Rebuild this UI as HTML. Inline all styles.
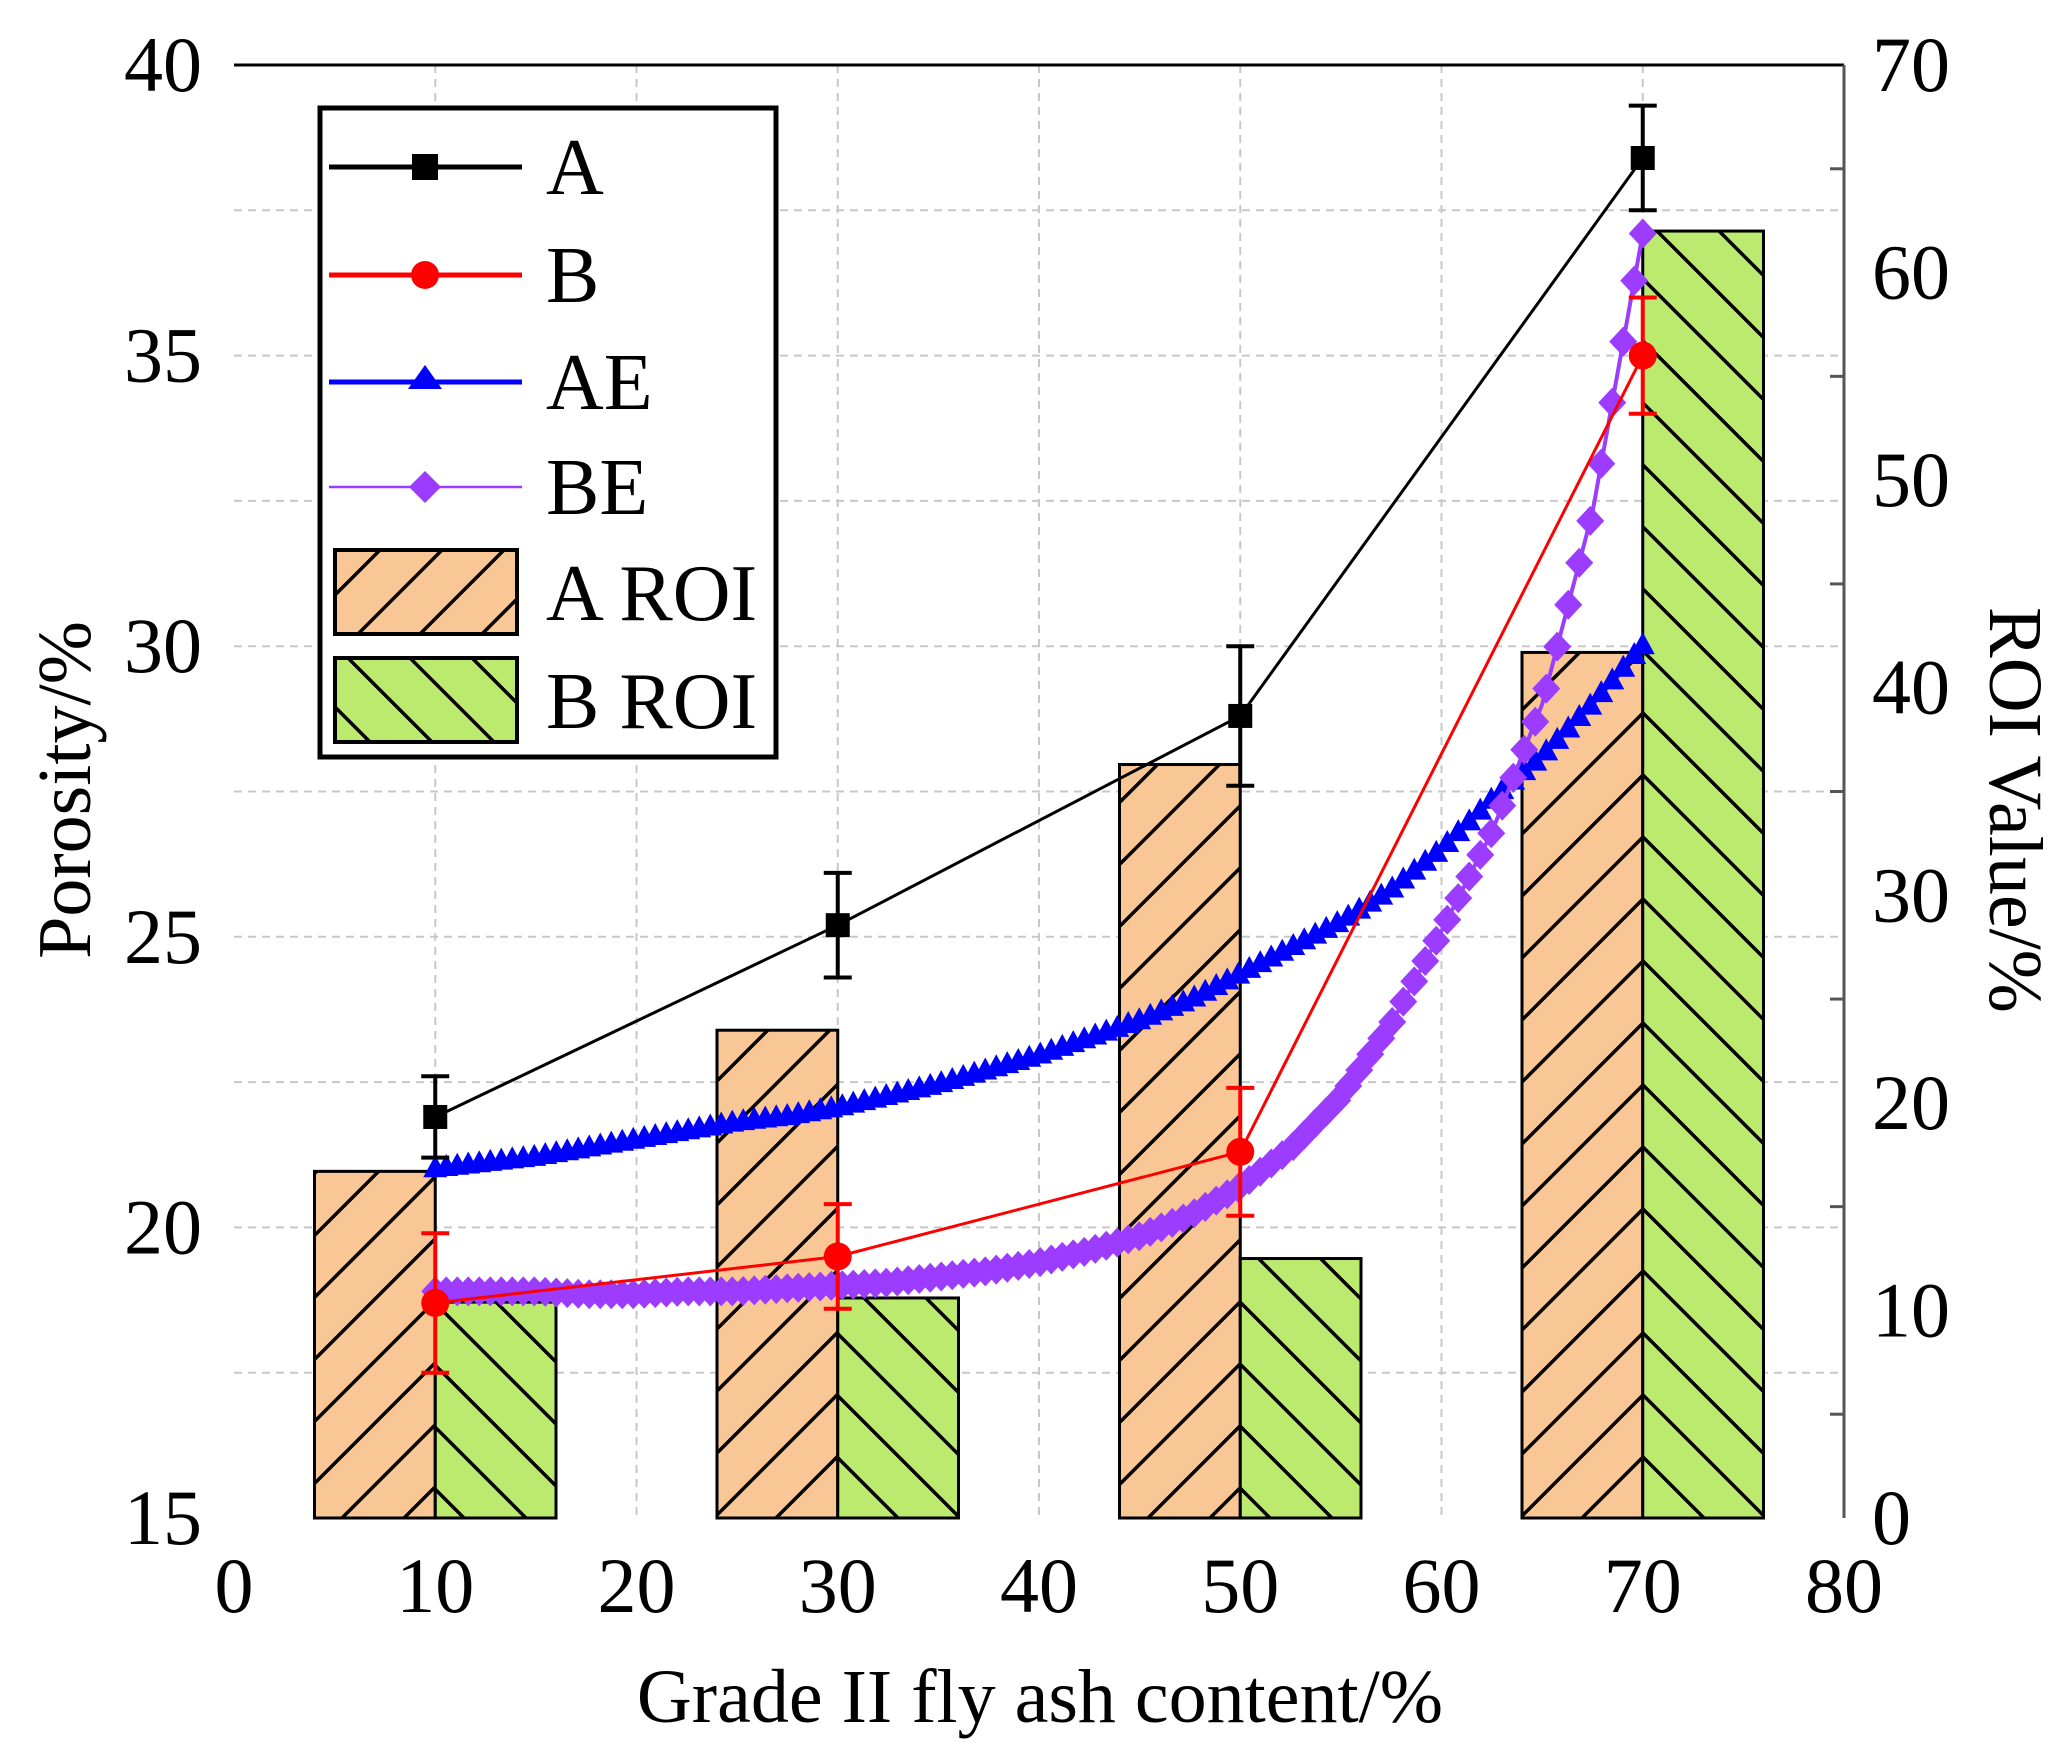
<!DOCTYPE html>
<html><head><meta charset="utf-8">
<style>
html,body{margin:0;padding:0;background:#fff;}
svg{display:block;}
text{font-family:"Liberation Serif",serif;fill:#000;}
</style></head>
<body>
<svg id="chart" width="2063" height="1758" viewBox="0 0 2063 1758" xmlns="http://www.w3.org/2000/svg">
<defs>
<pattern id="hatchA" patternUnits="userSpaceOnUse" width="62" height="62">
<rect width="62" height="62" fill="#f9c795"/>
<path d="M-10,72 L72,-10 M-10,10 L10,-10 M52,72 L72,52" stroke="#000" stroke-width="3.5"/>
</pattern>
<pattern id="hatchB" patternUnits="userSpaceOnUse" width="62" height="62">
<rect width="62" height="62" fill="#bbea6f"/>
<path d="M-10,-10 L72,72 M-10,52 L10,72 M52,-10 L72,10" stroke="#000" stroke-width="3.5"/>
</pattern>
</defs>
<g id="grid"></g>
<g id="bars"></g>
<g id="lines"></g>
<g id="axes"></g>
<g id="legend"></g>
<text x="1040" y="1722" font-size="76" text-anchor="middle">Grade II fly ash content/%</text>
<text transform="translate(90,790) rotate(-90)" font-size="76" text-anchor="middle">Porosity/%</text>
<text transform="translate(1990,810) rotate(90)" font-size="76" text-anchor="middle">ROI Value/%</text>
</svg>
<script>
const categories = [10, 30, 50, 70];
const aPorosity = [21.9, 25.2, 28.8, 38.4];
const aError = [0.7, 0.9, 1.2, 0.9];
const bPorosity = [18.7, 19.5, 21.3, 35.0];
const bError = [1.2, 0.9, 1.1, 1.0];
const aRoi = [16.7, 23.5, 36.3, 41.7];
const bRoi = [10.4, 10.6, 12.5, 62.0];
const fitX = [10,12.5,15,17.5,20,22.5,25,27.5,30,32.5,35,37.5,40,42.5,45,47.5,50,52.5,55,57.5,60,62.5,65,67.5,70];
const aeValues = [21.0,21.1,21.2,21.35,21.5,21.65,21.8,21.9,22.05,22.25,22.45,22.7,22.95,23.25,23.55,23.9,24.35,24.8,25.25,25.8,26.5,27.35,28.1,29.0,30.0];
const beValues = [18.9,18.9,18.9,18.85,18.85,18.9,18.9,18.95,19.0,19.05,19.15,19.25,19.4,19.6,19.85,20.2,20.7,21.35,22.25,23.5,25.1,26.8,29.0,32.3,37.1];
const xTicks = [0,10,20,30,40,50,60,70,80];
const yTicks = [15,20,25,30,35,40];
const y2Ticks = [0,10,20,30,40,50,60,70];

const NS="http://www.w3.org/2000/svg";
const X0=234,X1=1844,YT=65,YB=1518;
const sx=v=>X0+(v-0)/(80-0)*(X1-X0);
const sy=v=>YB-(v-15)/(40-15)*(YB-YT);
const sy2=v=>YB-(v-0)/(70-0)*(YB-YT);
function mk(tag,attrs,parent){const e=document.createElementNS(NS,tag);for(const k in attrs)e.setAttribute(k,attrs[k]);parent.appendChild(e);return e;}
const gridG=document.getElementById('grid'),barsG=document.getElementById('bars'),linesG=document.getElementById('lines'),axesG=document.getElementById('axes'),legendG=document.getElementById('legend');

for(let v=10;v<80;v+=10){const l=mk('line',{x1:sx(v),x2:sx(v),y1:YT,y2:YB,stroke:'#c8c8c8','stroke-width':2,'stroke-dasharray':'8,6'},gridG);

}
for(let v=17.5;v<40;v+=2.5){const l=mk('line',{x1:X0,x2:X1,y1:sy(v),y2:sy(v),stroke:'#c8c8c8','stroke-width':2,'stroke-dasharray':'8,6'},gridG);

}

const bw=6;
categories.forEach((c,i)=>{
 const ra=mk('rect',{x:sx(c-bw),y:sy2(aRoi[i]),width:sx(c)-sx(c-bw),height:YB-sy2(aRoi[i]),fill:'url(#hatchA)',stroke:'#000','stroke-width':3},barsG);
 
 
 const rb=mk('rect',{x:sx(c),y:sy2(bRoi[i]),width:sx(c+bw)-sx(c),height:YB-sy2(bRoi[i]),fill:'url(#hatchB)',stroke:'#000','stroke-width':3},barsG);
 
 
});

// marker positions uniformly spaced in x along the polyline through the data
function densePts(xs,ys,stepPx){const P=xs.map((x,i)=>[sx(x),sy(ys[i])]);const out=[];
 for(let px=P[0][0];px<=P[P.length-1][0]+0.01;px+=stepPx){
  let j=1;while(j<P.length-1&&P[j][0]<px)j++;
  const a=P[j-1],b=P[j];const t=(px-a[0])/(b[0]-a[0]);out.push([px,a[1]+(b[1]-a[1])*t]);}
 out.push(P[P.length-1]);return [P,out];}
function curve(vals,color,width,shape,name){
 const res=densePts(fitX,vals,11);const P=res[0],D=res[1];
 const pl=mk('polyline',{points:P.map(p=>p.join(',')).join(' '),fill:'none',stroke:color,'stroke-width':width,'stroke-linejoin':'round'},linesG);
 
 
 D.forEach(p=>{let m;
  if(shape==='tri') m=mk('path',{d:`M${p[0]},${p[1]-14} L${p[0]+12},${p[1]+8} L${p[0]-12},${p[1]+8}Z`,fill:color},linesG);
  else m=mk('path',{d:`M${p[0]},${p[1]-15} L${p[0]+14},${p[1]} L${p[0]},${p[1]+15} L${p[0]-14},${p[1]}Z`,fill:color},linesG);
  
  });
}
curve(aeValues,'#0000ff',4,'tri','ae');
curve(beValues,'#9b3cff',4,'dia','be');

function series(vals,errs,color,shape,name){
 const pl=mk('polyline',{points:categories.map((c,i)=>sx(c)+','+sy(vals[i])).join(' '),fill:'none',stroke:color,'stroke-width':3},linesG);
 
 
 categories.forEach((c,i)=>{const x=sx(c),y=sy(vals[i]),t=sy(vals[i]+errs[i]),b=sy(vals[i]-errs[i]);
  const e=mk('path',{d:`M${x},${t} L${x},${b} M${x-14},${t} L${x+14},${t} M${x-14},${b} L${x+14},${b}`,stroke:color,'stroke-width':4,fill:'none'},linesG);
  
  
  let m;
  if(shape==='sq') m=mk('rect',{x:x-12,y:y-12,width:24,height:24,fill:color},linesG);
  else m=mk('circle',{cx:x,cy:y,r:14,fill:color},linesG);
  
  });
}
series(aPorosity,aError,'#000','sq','a');
series(bPorosity,bError,'#ff0000','circ','b');

const topLine=mk('line',{x1:X0,x2:X1,y1:YT,y2:YT,stroke:'#000','stroke-width':3},axesG);


const rightLine=mk('line',{x1:X1,x2:X1,y1:YT,y2:YB,stroke:'#555','stroke-width':3},axesG);


for(let v=0;v<=70;v+=5){const t=mk('line',{x1:X1-(v%10===0?0:14),x2:X1,y1:sy2(v),y2:sy2(v),stroke:'#555','stroke-width':3},axesG);
 
 }
xTicks.forEach(v=>{const t=mk('text',{x:sx(v),y:1612,'font-size':78,'text-anchor':'middle'},axesG);t.textContent=v;
 
 });
yTicks.forEach(v=>{const t=mk('text',{x:202,y:sy(v)+26,'font-size':78,'text-anchor':'end'},axesG);t.textContent=v;
 
 });
y2Ticks.forEach(v=>{const t=mk('text',{x:1872,y:sy2(v)+26,'font-size':78,'text-anchor':'start'},axesG);t.textContent=v;
 
 });

const box=mk('rect',{x:320,y:108,width:456,height:649,fill:'#fff',stroke:'#000','stroke-width':5},legendG);


const legItems=[['A','#000','sq',167],['B','#ff0000','circ',275],['AE','#0000ff','tri',382],['BE','#9b3cff','dia',487]];
legItems.forEach(([lab,col,sh,y])=>{
 const g=mk('g',{},legendG);
 
 
 mk('line',{x1:329,x2:522,y1:y,y2:y,stroke:col,'stroke-width':sh==='dia'?2.5:5},g);
 if(sh==='sq') mk('rect',{x:412,y:y-13,width:26,height:26,fill:col},g);
 else if(sh==='circ') mk('circle',{cx:425,cy:y,r:14,fill:col},g);
 else if(sh==='tri') mk('path',{d:`M425,${y-17} L442,${y+7} L408,${y+7}Z`,fill:col},g);
 else mk('path',{d:`M425,${y-16} L441,${y} L425,${y+16} L409,${y}Z`,fill:col},g);
 const t=mk('text',{x:546,y:y+27,'font-size':80},g);t.textContent=lab;
});
[['A ROI','url(#hatchA)',550],['B ROI','url(#hatchB)',658]].forEach(([lab,f,y])=>{
 const g=mk('g',{},legendG);
 
 
 mk('rect',{x:335,y:y,width:182,height:84,fill:f,stroke:'#000','stroke-width':4},g);
 const t=mk('text',{x:546,y:y+70,'font-size':80},g);t.textContent=lab;
});
</script>
</body></html>
